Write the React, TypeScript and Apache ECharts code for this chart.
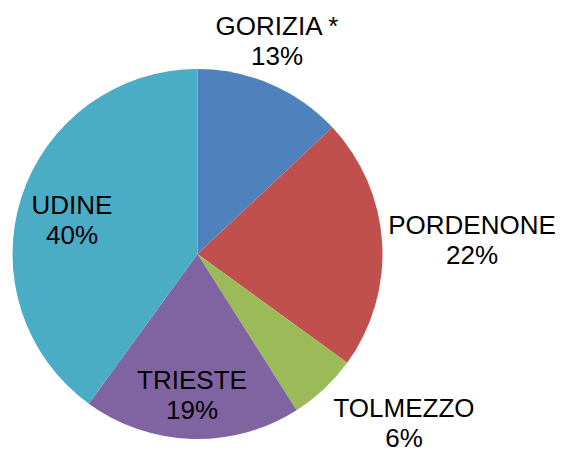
import React, { useEffect, useRef } from "react";
import * as echarts from "echarts";

const categories = ["GORIZIA *", "PORDENONE", "TOLMEZZO", "TRIESTE", "UDINE"];
const shares = [13, 22, 6, 19, 40];
const colors = ["#4F81BD", "#C0504D", "#9BBB59", "#8064A2", "#4BACC6"];

// label anchor positions (chart pixels), layout only
const labelAnchors: [number, number][] = [
  [277, 41],
  [472, 240],
  [404, 423],
  [192, 395],
  [72, 220],
];

export default function App() {
  const ref = useRef<HTMLDivElement>(null);
  useEffect(() => {
    if (!ref.current) return;
    const chart = echarts.init(ref.current, undefined, { renderer: "svg" });
    chart.setOption({
      animation: false,
      backgroundColor: "#ffffff",
      series: [
        {
          type: "pie",
          center: [197.5, 254],
          radius: 185,
          startAngle: 90,
          clockwise: true,
          avoidLabelOverlap: false,
          percentPrecision: 0,
          data: categories.map((name, i) => ({
            name,
            value: shares[i],
            itemStyle: { color: colors[i] },
          })),
          label: {
            show: true,
            position: "inside",
            formatter: (p: any) => `${p.name}\n${p.value}%`,
            color: "#000000",
            fontFamily: "Liberation Sans, Arial, Helvetica, sans-serif",
            fontSize: 26,
            lineHeight: 30,
            align: "center",
          },
          labelLine: { show: false },
          labelLayout: (params: any) => {
            const a = labelAnchors[params.dataIndex];
            return { x: a[0], y: a[1], align: "center", verticalAlign: "middle" };
          },
          emphasis: { disabled: true },
        },
      ],
    });
    return () => chart.dispose();
  }, []);
  return (
    <div
      ref={ref}
      style={{ position: "fixed", left: 0, top: 0, width: 563, height: 450 }}
    />
  );
}
